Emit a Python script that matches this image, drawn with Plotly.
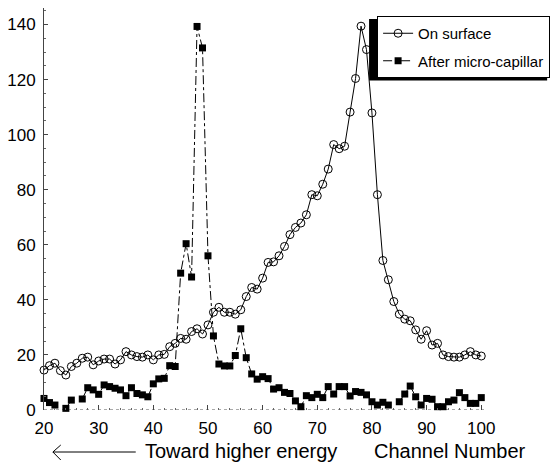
import plotly.graph_objects as go

# ---------------- data ----------------
channels = list(range(20, 101))

on_surface = [
    14.5, 16.1, 17.0, 14.3, 12.7, 15.8, 17.0, 18.8, 19.2, 16.4,   # 20-29
    17.8, 18.5, 18.5, 16.7, 18.2, 21.2, 20.0, 19.4, 19.2, 20.0,   # 30-39
    18.2, 20.0, 20.2, 23.0, 24.2, 26.0, 25.7, 28.5, 29.5, 27.6,   # 40-49
    30.9, 35.5, 37.3, 35.5, 35.5, 34.8, 36.4, 41.2, 44.5, 43.9,   # 50-59
    47.9, 53.6, 53.8, 56.0, 59.4, 63.7, 66.3, 67.9, 70.9, 78.2,   # 60-69
    77.8, 82.0, 87.5, 96.4, 94.9, 95.8, 108.2, 120.4, 139.4, 130.9,  # 70-79
    107.9, 78.2, 54.3, 47.3, 39.4, 34.8, 33.0, 32.4, 29.1, 25.7,  # 80-89
    28.8, 23.6, 24.2, 20.0, 19.4, 19.2, 19.2, 20.0, 21.2, 20.0,   # 90-99
    19.6,                                                         # 100
]

after_capillary = [
    4.2, 2.7, 1.8, None, 0.6, 3.6, None, 4.0, 8.1, 7.3,           # 20-29
    5.7, 9.1, 8.5, 7.9, 7.3, 5.2, 8.1, 6.0, 5.5, 4.8,             # 30-39
    9.5, 11.3, 11.5, 16.1, 15.8, 49.7, 60.4, 48.3, 139.3, 131.5,  # 40-49
    56.0, 26.9, 16.7, 16.0, 16.0, 19.8, 29.5, 19.0, 13.1, 11.2,   # 50-59
    12.1, 11.4, 7.6, 8.1, 6.4, 6.0, 3.3, 1.2, 5.2, 4.5,           # 60-69
    5.7, 4.5, 8.5, 5.8, 8.5, 8.5, 5.1, 6.7, 6.4, 5.5,             # 70-79
    3.0, 1.8, 2.8, 1.8, None, 3.0, 5.8, 8.7, 4.8, 1.8,            # 80-89
    4.2, 3.9, 1.2, 1.2, 3.0, 3.6, 6.3, 4.5, 2.4, 2.4,             # 90-99
    4.5,                                                          # 100
]

series_names = ["On surface", "After micro-capillar"]
x_tick_values = [20, 30, 40, 50, 60, 70, 80, 90, 100]
y_tick_values = [0, 20, 40, 60, 80, 100, 120, 140]
x_title = "Channel Number"
direction_label = "Toward higher energy"

# ---------------- layout geometry ----------------
W, H = 558, 462
ML, MR, MT, MB = 44, 68, 8, 52
PW = W - ML - MR
PH = H - MT - MB


def px_x(px):
    return (px - ML) / PW


def px_y(py):
    return (H - MB - py) / PH


FONT = "Liberation Sans, Arial, Helvetica, sans-serif"

fig = go.Figure()

fig.add_trace(go.Scatter(
    x=channels, y=on_surface, name=series_names[0], legendgroup="a",
    mode="lines+markers",
    line=dict(color="black", width=1),
    marker=dict(symbol="circle-open", size=8, color="black", line=dict(width=1, color="black")),
    cliponaxis=False,
))
fig.add_trace(go.Scatter(
    x=channels, y=after_capillary, name=series_names[1], legendgroup="b",
    mode="lines+markers",
    line=dict(color="black", width=1, dash="dashdot"),
    marker=dict(symbol="square", size=7, color="black"),
    connectgaps=False,
    cliponaxis=False,
))

LEG_TOP, LEG_RIGHT = 16, 557
LEG_W, LEG_H = 181, 62

shapes = []
# dotted x axis line at y = 0
shapes.append(dict(type="line", xref="paper", yref="y", x0=0, x1=1, y0=0, y1=0,
                   line=dict(color="#555", width=1, dash="dot"), layer="below"))
# legend shadow (offset down-left)
shapes.append(dict(type="rect", xref="paper", yref="paper",
                   x0=px_x(LEG_RIGHT - LEG_W - 2.5), x1=px_x(LEG_RIGHT - 3),
                   y0=px_y(LEG_TOP + LEG_H + 2.5), y1=px_y(LEG_TOP + 3),
                   fillcolor="black", line=dict(width=0), layer="above"))
# arrow "<------" under the axis
shapes.append(dict(type="line", xref="paper", yref="paper",
                   x0=px_x(53), x1=px_x(137), y0=px_y(452), y1=px_y(452),
                   line=dict(color="black", width=1)))
shapes.append(dict(type="line", xref="paper", yref="paper",
                   x0=px_x(53), x1=px_x(61), y0=px_y(452), y1=px_y(445),
                   line=dict(color="black", width=1)))
shapes.append(dict(type="line", xref="paper", yref="paper",
                   x0=px_x(53), x1=px_x(61), y0=px_y(452), y1=px_y(460),
                   line=dict(color="black", width=1)))

annotations = [
    dict(text=direction_label, xref="paper", yref="paper", x=px_x(144), y=px_y(451),
         xanchor="left", yanchor="middle", showarrow=False,
         font=dict(family=FONT, size=20, color="black")),
    dict(text=x_title, xref="paper", yref="paper", x=px_x(376), y=px_y(451),
         xanchor="left", yanchor="middle", showarrow=False,
         font=dict(family=FONT, size=20, color="black")),
]

fig.update_layout(
    width=W, height=H,
    margin=dict(l=ML, r=MR, t=MT, b=MB, pad=0),
    paper_bgcolor="white", plot_bgcolor="white",
    font=dict(family=FONT, size=17, color="black"),
    showlegend=True,
    legend=dict(
        x=px_x(LEG_RIGHT), y=px_y(LEG_TOP), xanchor="right", yanchor="top",
        bgcolor="white", bordercolor="black", borderwidth=1,
        font=dict(family=FONT, size=15, color="black"),
        tracegroupgap=5,
    ),
    shapes=shapes,
    annotations=annotations,
)

fig.update_xaxes(
    range=[20, 100.5], showgrid=False, zeroline=False, showline=False,
    tickmode="array", tickvals=x_tick_values,
    ticks="inside", ticklen=5, tickwidth=1, tickcolor="#444",
    minor=dict(dtick=2, tick0=20, ticks="inside", ticklen=2, tickcolor="#666", showgrid=False),
    ticklabelstandoff=6,
    tickfont=dict(family=FONT, size=17, color="black"),
)
fig.update_yaxes(
    range=[0, 146], showgrid=False, zeroline=False,
    showline=True, linecolor="#444", linewidth=1,
    tickmode="array", tickvals=y_tick_values,
    ticks="inside", ticklen=4, tickwidth=1, tickcolor="#444",
    minor=dict(dtick=5, tick0=0, ticks="inside", ticklen=2, tickcolor="#666", showgrid=False),
    ticklabelstandoff=4,
    tickfont=dict(family=FONT, size=17, color="black"),
)

fig.write_html("out.html")
